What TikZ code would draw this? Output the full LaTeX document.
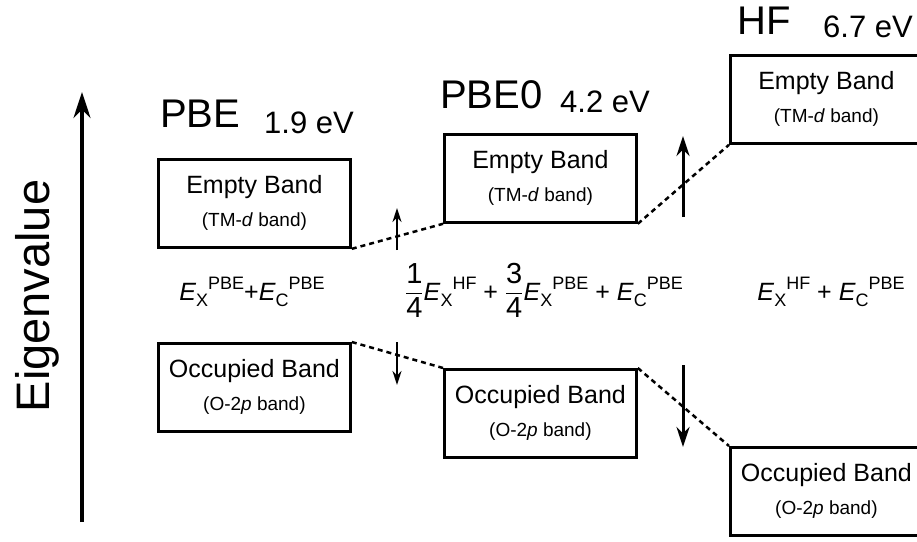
\documentclass[tikz,border=0pt]{standalone}
\usepackage{fontspec}
\setmainfont{Liberation Sans}
\usepackage{amsmath}
\usetikzlibrary{arrows.meta}
\newcommand{\EEx}[2]{\textit{E}\raisebox{-6pt}{\fontsize{18}{18}\selectfont #1}\raisebox{10.5pt}{\fontsize{18}{18}\selectfont #2}}
\newcommand{\FFr}[2]{{\fontsize{29}{29}\selectfont$\dfrac{\text{#1}}{\text{#2}}$}}
\begin{document}
\begin{tikzpicture}[x=1pt,y=-1pt,
  bandbox/.style={draw, line width=2.8pt, anchor=north west, inner sep=0pt,
    minimum width=192pt, minimum height=88pt, align=center,
    font=\fontsize{25}{33}\selectfont},
  methodlab/.style={anchor=base west, inner sep=0pt, font=\fontsize{40}{40}\selectfont},
  gaplab/.style={anchor=base west, inner sep=0pt, font=\fontsize{31}{31}\selectfont},
  formula/.style={anchor=base, inner sep=0pt, font=\fontsize{25}{25}\selectfont},
  link/.style={line width=2.5pt, dash pattern=on 5pt off 4pt},
  bigarrow/.style={line width=3.2pt, -{Stealth[length=26pt,width=17pt]}},
  midarrow/.style={line width=3pt, -{Stealth[length=20pt,width=13pt]}},
  smallarrow/.style={line width=2pt, -{Stealth[length=14pt,width=9pt]}}
]
\useasboundingbox (0,0) rectangle (917,541);

% axis
\coordinate (axb) at (82,522);
\coordinate (axt) at (82,92);
\draw[bigarrow] (axb) -- (axt);
\node[rotate=90, anchor=base, inner sep=0pt, font=\fontsize{47}{47}\selectfont] (eig) at (49,296) {Eigenvalue};

% method labels
\node[methodlab] (pbe) at (160,127) {PBE};
\node[gaplab] (pbegap) at (264,133) {1.9 eV};
\node[methodlab] (pbe0) at (440,108) {PBE0};
\node[gaplab] (pbe0gap) at (560,112) {4.2 eV};
\node[methodlab] (hf) at (737,34) {HF};
\node[gaplab] (hfgap) at (823,37) {6.7 eV};

% boxes
\node[bandbox] (e1) at (157,158) {Empty Band\\{\fontsize{19}{33}\selectfont(TM-\textit{d} band)}};
\node[bandbox] (e2) at (443,133) {Empty Band\\{\fontsize{19}{33}\selectfont(TM-\textit{d} band)}};
\node[bandbox] (e3) at (729,54) {Empty Band\\{\fontsize{19}{33}\selectfont(TM-\textit{d} band)}};
\node[bandbox] (o1) at (157,342) {Occupied Band\\{\fontsize{19}{33}\selectfont(O-2\textit{p} band)}};
\node[bandbox] (o2) at (443,368) {Occupied Band\\{\fontsize{19}{33}\selectfont(O-2\textit{p} band)}};
\node[bandbox] (o3) at (729,446) {Occupied Band\\{\fontsize{19}{33}\selectfont(O-2\textit{p} band)}};

% dashed links
\draw[link] (e1.south east) -- (e2.south west);
\draw[link] (e2.south east) -- (e3.south west);
\draw[link] (o1.north east) -- (o2.north west);
\draw[link] (o2.north east) -- (o3.north west);

% shift arrows
\coordinate (a1s) at (397,250); \coordinate (a1e) at (397,208);
\coordinate (a2s) at (397,342); \coordinate (a2e) at (397,385);
\coordinate (a3s) at (683,217); \coordinate (a3e) at (683,136);
\coordinate (a4s) at (683,365); \coordinate (a4e) at (683,447);
\draw[smallarrow] (a1s) -- (a1e);
\draw[smallarrow] (a2s) -- (a2e);
\draw[midarrow] (a3s) -- (a3e);
\draw[midarrow] (a4s) -- (a4e);

% formulas
\node[formula] (f1) at (252,300) {\EEx{X}{PBE}+\EEx{C}{PBE}};
\node[formula] (f2) at (544,300) {\FFr{1}{4}\EEx{X}{HF} + \FFr{3}{4}\EEx{X}{PBE} + \EEx{C}{PBE}};
\node[formula] (f3) at (831,300) {\EEx{X}{HF} + \EEx{C}{PBE}};
\end{tikzpicture}
\end{document}
